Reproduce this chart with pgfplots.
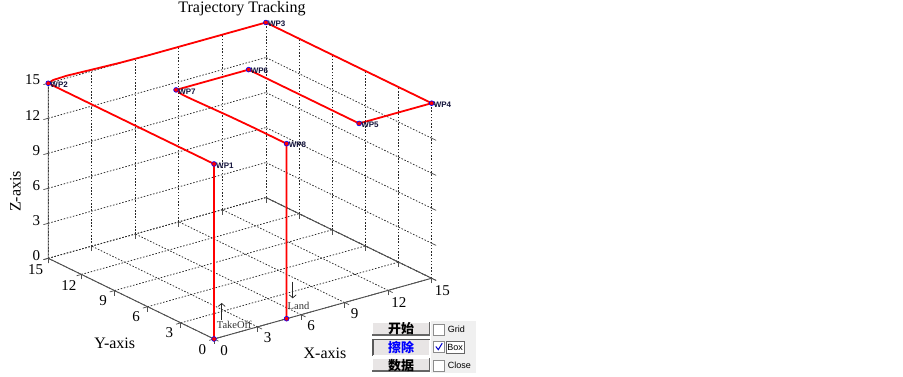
\documentclass[border=0pt]{standalone}
\usepackage{fontspec}
\setmainfont{Liberation Serif}
\newfontfamily\wpfont{Liberation Sans}
\newfontfamily\uifont{Liberation Sans}
\newfontfamily\cjk{Noto Sans CJK SC}
\usepackage{pgfplots}
\pgfplotsset{compat=1.18}
\usetikzlibrary{arrows.meta}
\definecolor{gridc}{RGB}{40,40,40}
\definecolor{boxc}{RGB}{80,80,80}
\definecolor{btnfill}{RGB}{232,229,229}
\definecolor{panel}{RGB}{240,240,240}
\definecolor{wpc}{RGB}{20,20,60}
\begin{document}
\begin{tikzpicture}[x=1pt,y=1pt]
\useasboundingbox (0,0) rectangle (903,377);
\fill[white] (0,0) rectangle (903,377);
\begin{axis}[
  at={(214pt,38pt)}, anchor=origin,
  x={(14.51pt,4.05pt)}, y={(-11.05pt,5.38pt)}, z={(0pt,11.67pt)},
  xmin=0,xmax=15,ymin=0,ymax=15,zmin=0,zmax=15,
  xtick={0,3,...,15}, ytick={0,3,...,15}, ztick={0,3,...,15},
  xtick pos=left, ytick pos=left, ztick pos=left,
  grid=major,
  major grid style={gridc, line width=0.75pt, dash pattern=on 1.5pt off 1.7pt},
  axis line style={draw=none},
  tick align=outside,
  major tick length=5pt,
  tick style={boxc, line width=0.7pt},
  tick label style={font=\fontsize{15}{18}\selectfont},
  /pgf/number format/assume math mode=true,
  clip=false,
]
% solid box edges
\addplot3[boxc, line width=0.9pt, mark=none] coordinates {
  (0,15,15) (0,15,0) (0,0,0) (15,0,0) (15,15,0)
};
% trajectory
\addplot3[red, line width=1.8pt, mark=none] coordinates {
  (0,0,0) (0,0,15) (0,15,15)
  (0.5,15.22,15) (1.5,15.28,15) (3,15.18,15) (5,15.05,15) (7,15,15)
  (15,15,15) (15,0,15) (10,0,15) (10,10,15) (5,10,15)
  (4.85,9.3,15) (4.85,8.5,15) (4.9,7,15) (4.97,5,15) (5,3,15)
  (5,0,15) (5,0,0)
};
% waypoint markers
\addplot3[only marks, mark=*, mark size=2.4pt, mark options={fill=red, draw=blue, line width=0.6pt}] coordinates {
  (0,0,0) (0,0,15) (0,15,15) (15,15,15) (15,0,15) (10,0,15) (10,10,15) (5,10,15) (5,0,15) (5,0,0)
};
% waypoint labels
\addplot3[draw=none, mark=none, nodes near coords, point meta=explicit symbolic,
  every node near coord/.append style={anchor=west, font=\wpfont\bfseries\fontsize{8}{9}\selectfont, text=wpc, inner sep=0pt, xshift=2pt, yshift=-1.5pt}] coordinates {
  (0,0,15) [WP1] (0,15,15) [WP2] (15,15,15) [WP3] (15,0,15) [WP4]
  (10,0,15) [WP5] (10,10,15) [WP6] (5,10,15) [WP7] (5,0,15) [WP8]
};
\end{axis}
% title and axis labels
\node[anchor=base, font=\fontsize{16}{19}\selectfont] at (242,364) {Trajectory Tracking};
\node[rotate=90, font=\fontsize{16}{19}\selectfont] at (15.5,185.5) {Z-axis};
\node[font=\fontsize{16}{19}\selectfont] at (114.7,33.7) {Y-axis};
\node[font=\fontsize{16}{19}\selectfont] at (325,23.7) {X-axis};
% annotations
\node[font=\fontsize{10.5}{12}\selectfont, text=black!80] at (234.2,52) {TakeOff};
\draw[-{Straight Barb[length=3pt,width=7pt]}, black!85, line width=0.7pt] (221.7,57) -- (221.7,74);
\node[font=\fontsize{10.5}{12}\selectfont, text=black!80] at (298.5,71) {Land};
\draw[-{Straight Barb[length=3pt,width=7pt]}, black!85, line width=0.7pt] (292.7,95.3) -- (292.7,78.7);
% UI panel
\fill[panel] (431,4) rectangle (476,56);
% buttons
\foreach \yb/\yt in {41/55, 5/19} {
  \fill[btnfill] (372,\yb) rectangle (430,\yt);
  \draw[white, line width=1pt] (372.5,\yb) -- (372.5,\yt-0.5) -- (430,\yt-0.5);
  \draw[black!60, line width=1.5pt] (372,\yb+0.75) -- (429.25,\yb+0.75) -- (429.25,\yt);
}
\fill[btnfill] (372,21) rectangle (430,38);
\draw[black!65, line width=1.5pt] (372.75,21) -- (372.75,37.25) -- (430,37.25);
\draw[white, line width=1pt] (373,21.5) -- (429.5,21.5) -- (429.5,37);
\node[font=\cjk\bfseries\fontsize{13}{14}\selectfont] at (401,48) {开始};
\node[font=\cjk\bfseries\fontsize{13}{14}\selectfont, text=blue] at (401,29.7) {擦除};
\node[font=\cjk\bfseries\fontsize{13}{14}\selectfont] at (401,11.3) {数据};
% checkboxes
\foreach \yc in {42, 24.7, 6} {
  \filldraw[fill=white, draw=black!45, line width=0.6pt] (433.3,\yc) rectangle (444,\yc+10.6);
}
\draw[blue!80!black, line width=1pt] (435.8,30.5) -- (438.3,27.3) -- (442.2,33.8);
\draw[black!60, line width=0.4pt, fill=white] (446,23.7) rectangle (464.3,36);
\node[anchor=west, font=\uifont\fontsize{9}{10}\selectfont, inner sep=0pt] at (447.7,47.3) {Grid};
\node[anchor=west, font=\uifont\fontsize{9}{10}\selectfont, inner sep=0pt] at (447.2,30) {Box};
\node[anchor=west, font=\uifont\fontsize{9}{10}\selectfont, inner sep=0pt] at (447.7,11.5) {Close};
\end{tikzpicture}
\end{document}
